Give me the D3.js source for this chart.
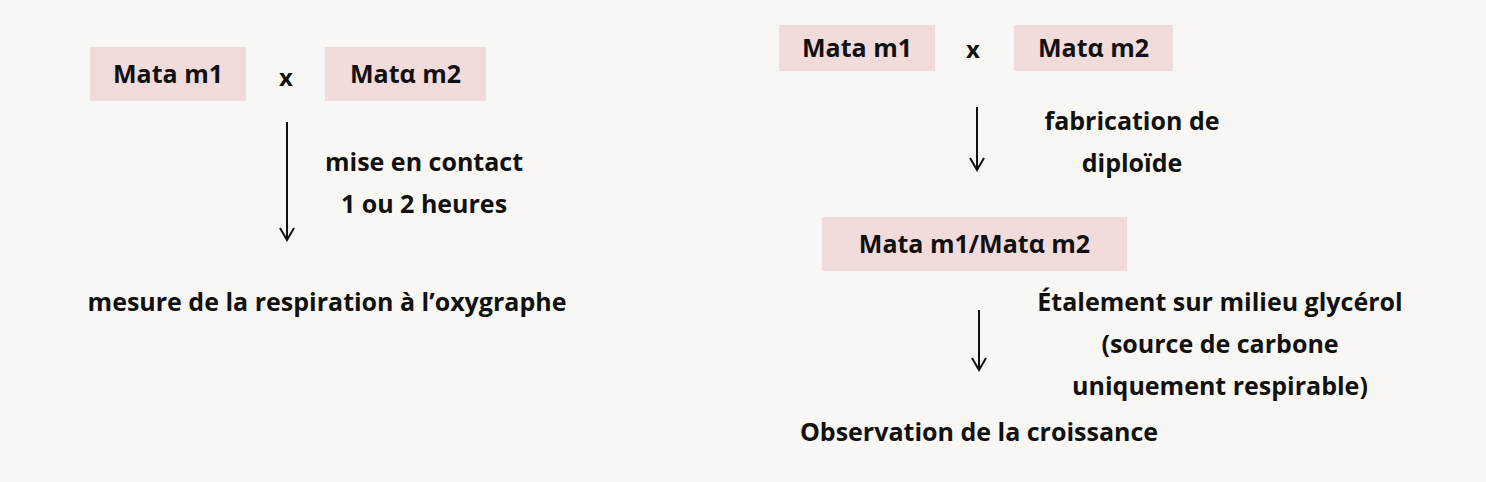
<!DOCTYPE html><html><head><meta charset="utf-8"><script src="https://cdn.jsdelivr.net/npm/d3@7"></script>
<style>body{margin:0;background:#f9f7f4}text{font-family:"Open Sans",Lato,sans-serif;font-weight:bold;fill:#111}</style></head><body>
<svg id="c" width="1486" height="482"></svg>
<script>
const boxLabels=["Mata m1","Matα m2","Mata m1","Matα m2","Mata m1/Matα m2"];
const crossLabels=["x","x"];
const stepLabels=[["mise en contact","1 ou 2 heures"],["fabrication de","diploïde"],["Étalement sur milieu glycérol","(source de carbone","uniquement respirable)"]];
const resultLabels=["mesure de la respiration à l’oxygraphe","Observation de la croissance"];
const FS=25;
const svg=d3.select("#c");
const boxes=[[90,47,156,54],[325,47,161,54],[779,25,156,46],[1014,25,159,46],[822,217,305,54]];
boxes.forEach((b,i)=>{svg.append("rect").attr("x",b[0]).attr("y",b[1]).attr("width",b[2]).attr("height",b[3]).attr("fill","#f2dcdb");
svg.append("text").attr("x",b[0]+b[2]/2).attr("y",b[1]+b[3]/2).attr("dy","0.35em").attr("text-anchor","middle").attr("font-size",FS).text(boxLabels[i]);});
[[286,78],[973,50]].forEach((p,i)=>svg.append("text").attr("x",p[0]).attr("y",p[1]).attr("dy","0.35em").attr("text-anchor","middle").attr("font-size",FS-1).text(crossLabels[i]));
function arrow(x,y1,y2){svg.append("line").attr("x1",x).attr("x2",x).attr("y1",y1).attr("y2",y2).attr("stroke","#111").attr("stroke-width",2);
svg.append("path").attr("d",`M${x-7},${y2-12}L${x},${y2}L${x+7},${y2-12}`).attr("fill","none").attr("stroke","#111").attr("stroke-width",2);}
arrow(287,122,240);arrow(977,107,170);arrow(979,310,370);
const steps=[[424,162],[1132,121],[1220,302]];
steps.forEach((s,i)=>stepLabels[i].forEach((t,j)=>svg.append("text").attr("x",s[0]).attr("y",s[1]+j*42).attr("dy","0.35em").attr("text-anchor","middle").attr("font-size",FS).text(t)));
[[327,302],[979,432]].forEach((p,i)=>svg.append("text").attr("x",p[0]).attr("y",p[1]).attr("dy","0.35em").attr("text-anchor","middle").attr("font-size",FS).text(resultLabels[i]));
</script></body></html>
